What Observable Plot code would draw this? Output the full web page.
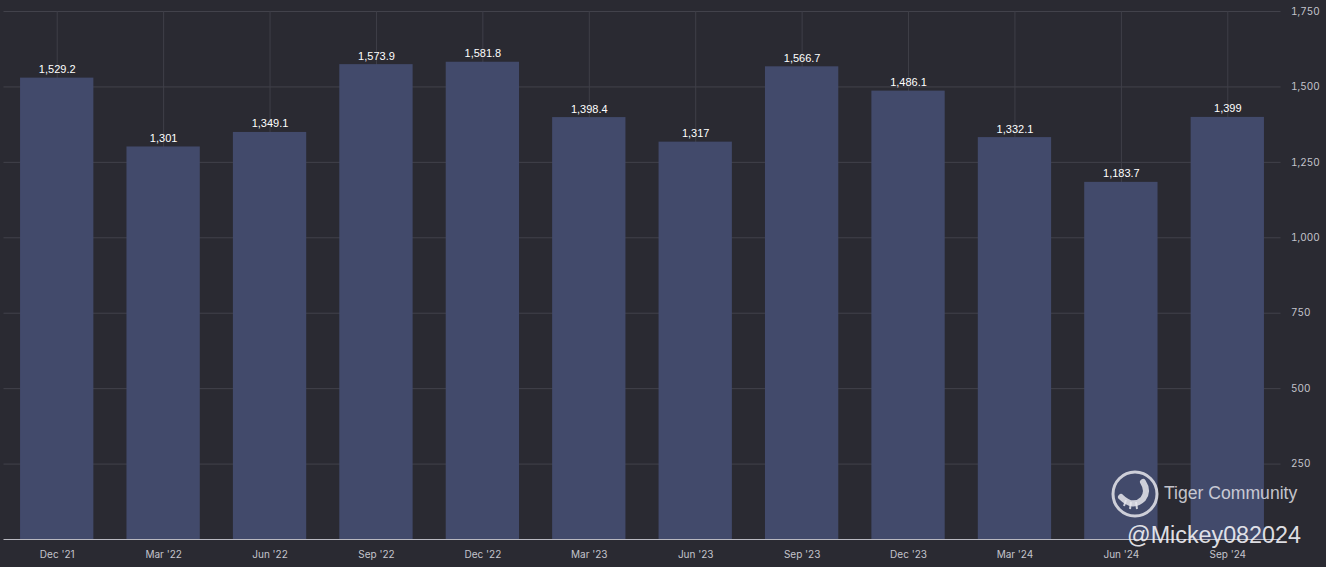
<!DOCTYPE html>
<html>
<head>
<meta charset="utf-8">
<script src="https://cdn.jsdelivr.net/npm/d3@7"></script>
<script src="https://cdn.jsdelivr.net/npm/@observablehq/plot@0.6"></script>
<style>
  html, body { margin: 0; padding: 0; background: #2a2a32; }
  #wrap { position: relative; width: 1326px; height: 567px; overflow: hidden; }
  #wm { position: absolute; left: 1108px; top: 468px; width: 218px; height: 99px; pointer-events: none; font-family: "Liberation Sans", Arial, sans-serif; }
  #wm .t1 { position: absolute; left: 56px; top: 15px; font-size: 17.6px; color: rgba(225,225,232,0.85); white-space: nowrap; }
  #wm .t2 { position: absolute; left: 19px; top: 54px; font-size: 23.3px; color: rgba(240,240,245,0.92); white-space: nowrap; }
  #wm svg { position: absolute; left: 1px; top: 1px; }
</style>
</head>
<body>
<div id="wrap"></div>
<script>
const quarters = ["Dec '21", "Mar '22", "Jun '22", "Sep '22", "Dec '22", "Mar '23", "Jun '23", "Sep '23", "Dec '23", "Mar '24", "Jun '24", "Sep '24"];
const values = [1529.2, 1301, 1349.1, 1573.9, 1581.8, 1398.4, 1317, 1566.7, 1486.1, 1332.1, 1183.7, 1399];
const yTicks = [250, 500, 750, 1000, 1250, 1500, 1750];

const data = quarters.map((q, i) => ({q, v: values[i]}));
const fmt = d3.format(",");

const chart = Plot.plot({
  width: 1326,
  height: 567,
  marginTop: 11,
  marginBottom: 28,
  marginLeft: 3.5,
  marginRight: 45.5,
  style: {background: "#2a2a32", color: "#c4c4cc", fontFamily: "Inter, 'Noto Sans', sans-serif", fontSize: "10px"},
  x: {domain: quarters, paddingInner: 0.311, paddingOuter: 0.1555, round: false, label: null},
  y: {domain: [0, 1750], label: null},
  marks: [
    Plot.gridY(yTicks, {stroke: "#42424b", strokeOpacity: 1}),
    Plot.gridX(quarters, {stroke: "#3f3f48", strokeOpacity: 1}),
    Plot.barY(data, {x: "q", y: "v", fill: "#424a6b"}),
    Plot.ruleY([0], {stroke: "#b8b8c0", strokeWidth: 1}),
    Plot.text(data, {x: "q", y: "v", text: d => fmt(d.v), lineAnchor: "bottom", dy: -5, fill: "#ffffff", fontSize: 11, fontFamily: "'Liberation Sans', Arial, sans-serif"}),
    Plot.axisX({tickSize: 0, tickPadding: 11, label: null, fill: "#c4c4cc"}),
    Plot.axisY(yTicks, {anchor: "right", tickSize: 0, tickPadding: 10, tickFormat: d => fmt(d), label: null, fill: "#c4c4cc"})
  ]
});

const wrap = document.getElementById("wrap");
wrap.appendChild(chart);

const wm = document.createElement("div");
wm.id = "wm";
wm.innerHTML = `
<svg width="52" height="52" viewBox="0 0 52 52">
  <circle cx="26" cy="25" r="22" fill="none" stroke="rgba(230,230,236,0.85)" stroke-width="3"/>
  <path d="M12 28 Q24 40 34 30 Q40 22 34 13" fill="none" stroke="rgba(230,230,236,0.85)" stroke-width="6" stroke-linecap="round"/>
  <path d="M17 31 L15 37 M22 33 L21 40 M27 33 L28 40" stroke="rgba(230,230,236,0.85)" stroke-width="2"/>
</svg>
<div class="t1">Tiger Community</div>
<div class="t2">@Mickey082024</div>`;
wrap.appendChild(wm);
</script>
</body>
</html>
